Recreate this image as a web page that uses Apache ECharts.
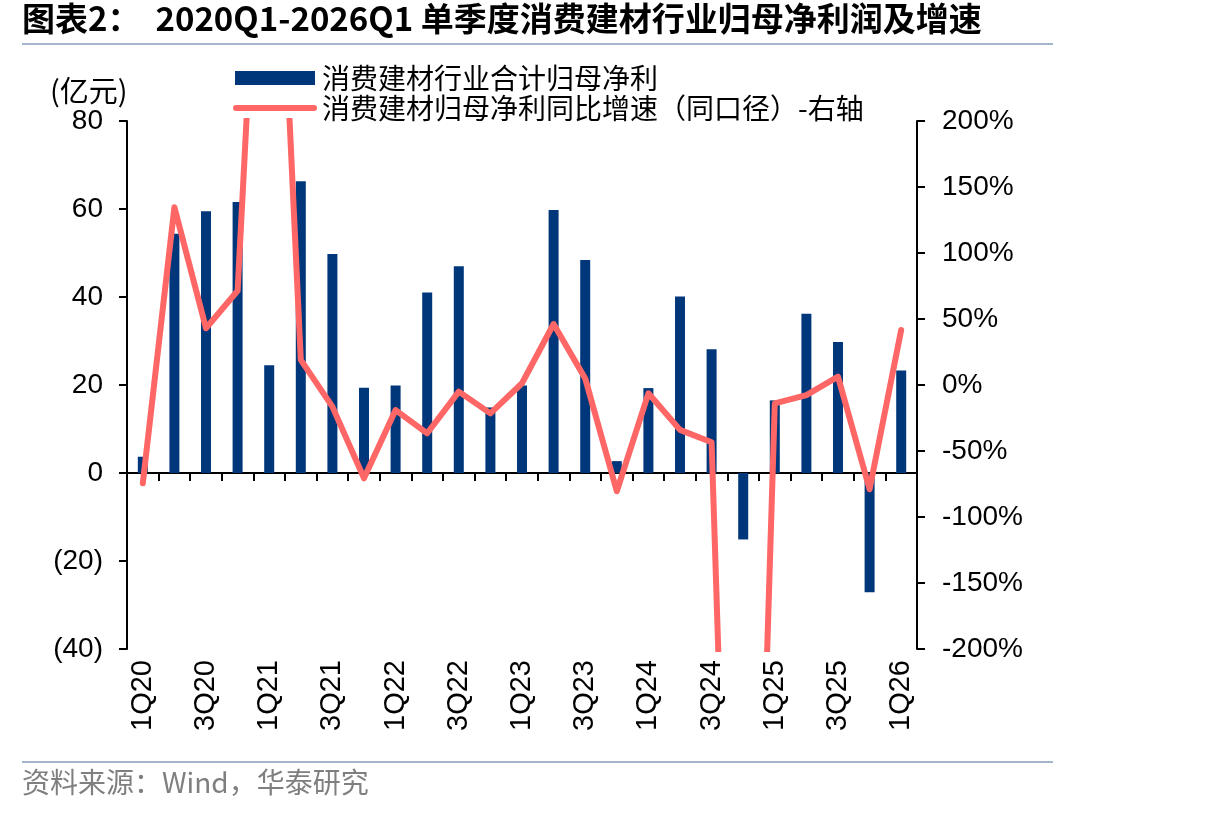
<!DOCTYPE html>
<html>
<head>
<meta charset="utf-8">
<title>消费建材行业归母净利润及增速</title>
<script src="https://cdn.jsdelivr.net/npm/echarts@6/dist/echarts.min.js"></script>
<style>
  html, body { margin: 0; padding: 0; background: #fff; }
  #chart { width: 1206px; height: 816px; }
</style>
</head>
<body>
<div id="chart"></div>
<script>
// 季度
var quarters = ["1Q20", "2Q20", "3Q20", "4Q20", "1Q21", "2Q21", "3Q21", "4Q21",
  "1Q22", "2Q22", "3Q22", "4Q22", "1Q23", "2Q23", "3Q23", "4Q23",
  "1Q24", "2Q24", "3Q24", "4Q24", "1Q25", "2Q25", "3Q25", "4Q25", "1Q26"];
// 消费建材行业合计归母净利（亿元）
var profit = [3.7, 54.4, 59.5, 61.6, 24.5, 66.3, 49.8, 19.4,
  19.9, 41.0, 47.0, 14.9, 19.9, 59.8, 48.4, 2.7,
  19.3, 40.1, 28.1, -15.1, 16.5, 36.2, 29.8, -27.1, 23.3];
// 同比增速（%），1Q21 和 4Q24 超出坐标范围
var growth = [-74.5, 134.6, 43, 71.4, 530, 19, -16.4, -70.7,
  -19, -36.6, -5, -21.5, 1.3, 46.2, 5, -80.5,
  -6.3, -34, -43.4, -790, -13.9, -7.6, 6.3, -79, 41.7];
// 坐标刻度
var leftTicks = { min: -40, max: 80, step: 20 };
var rightTicks = { min: -200, max: 200, step: 50 };

var barName = "消费建材行业合计归母净利";
var lineName = "消费建材归母净利同比增速（同口径）-右轴";

var axisFont = "Liberation Sans, Arial, sans-serif";
var cnFont = "Noto Sans CJK SC, sans-serif";

var chart = echarts.init(document.getElementById("chart"));
chart.setOption({
  animation: false,
  grid: { left: 127, right: 289, top: 121, bottom: 167 },
  graphic: [
    {
      type: "text", left: 22, top: 2,
      style: { text: "图表2：  2020Q1-2026Q1 单季度消费建材行业归母净利润及增速",
        font: "bold 33px " + cnFont, fill: "#000" }
    },
    { type: "rect", left: 22, top: 43, shape: { width: 1031, height: 2 }, style: { fill: "#a3b6cc" } },
    {
      type: "text", left: 50, top: 76,
      style: { text: "(亿元)", font: "29px " + cnFont, fill: "#000" }
    },
    { type: "rect", left: 22, top: 761, shape: { width: 1031, height: 2 }, style: { fill: "#a3b6cc" } },
    {
      type: "text", left: 22, top: 768,
      style: { text: "资料来源：Wind，华泰研究", font: "28px " + cnFont, fill: "#7f7f7f" }
    }
  ],
  legend: {
    orient: "vertical",
    left: 228,
    top: 59,
    itemWidth: 84,
    itemHeight: 14,
    itemGap: 2,
    textStyle: { fontFamily: cnFont, fontSize: 28, color: "#000" },
    data: [
      { name: barName, icon: "path://M4,0L84,0L84,14L4,14Z" },
      // 粗线图例，两端圆头
      { name: lineName, icon: "path://M3,0L81,0A3,3 0 0 1 81,6L3,6A3,3 0 0 1 3,0Z" }
    ]
  },
  xAxis: [
    {
      // 零轴：只画轴线和刻度
      type: "category",
      data: quarters,
      axisLine: { onZero: true, onZeroAxisIndex: 0, lineStyle: { color: "#000", width: 2 } },
      axisTick: { show: true, interval: 0, length: 8, lineStyle: { color: "#000", width: 2 } },
      axisLabel: { show: false },
      splitLine: { show: false }
    },
    {
      // 底部标签
      type: "category",
      data: quarters,
      position: "bottom",
      axisLine: { show: false, onZero: false },
      axisTick: { show: false },
      axisLabel: {
        interval: 1, rotate: 90, margin: 11,
        fontFamily: axisFont, fontSize: 29, color: "#000"
      },
      splitLine: { show: false }
    }
  ],
  yAxis: [
    {
      type: "value",
      min: leftTicks.min, max: leftTicks.max, interval: leftTicks.step,
      axisLine: { show: true, lineStyle: { color: "#000", width: 2 } },
      axisTick: { show: true, length: 8, lineStyle: { color: "#000", width: 2 } },
      axisLabel: {
        margin: 24, fontFamily: axisFont, fontSize: 28, color: "#000",
        formatter: function (v) { return v < 0 ? "(" + (-v) + ")" : String(v); }
      },
      splitLine: { show: false }
    },
    {
      type: "value",
      min: rightTicks.min, max: rightTicks.max, interval: rightTicks.step,
      position: "right",
      axisLine: { show: true, lineStyle: { color: "#000", width: 2 } },
      axisTick: { show: true, length: 8, lineStyle: { color: "#000", width: 2 } },
      axisLabel: {
        margin: 25, fontFamily: axisFont, fontSize: 28, color: "#000",
        formatter: "{value}%"
      },
      splitLine: { show: false }
    }
  ],
  series: [
    {
      name: barName,
      type: "bar",
      data: profit,
      xAxisIndex: 0,
      yAxisIndex: 0,
      barWidth: 10,
      itemStyle: { color: "#00377a" }
    },
    {
      name: lineName,
      type: "line",
      data: growth,
      xAxisIndex: 0,
      yAxisIndex: 1,
      symbol: "none",
      clip: true,
      lineStyle: { color: "#ff6666", width: 6, cap: "round", join: "round" },
      itemStyle: { color: "#ff6666" }
    }
  ]
});
</script>
</body>
</html>
